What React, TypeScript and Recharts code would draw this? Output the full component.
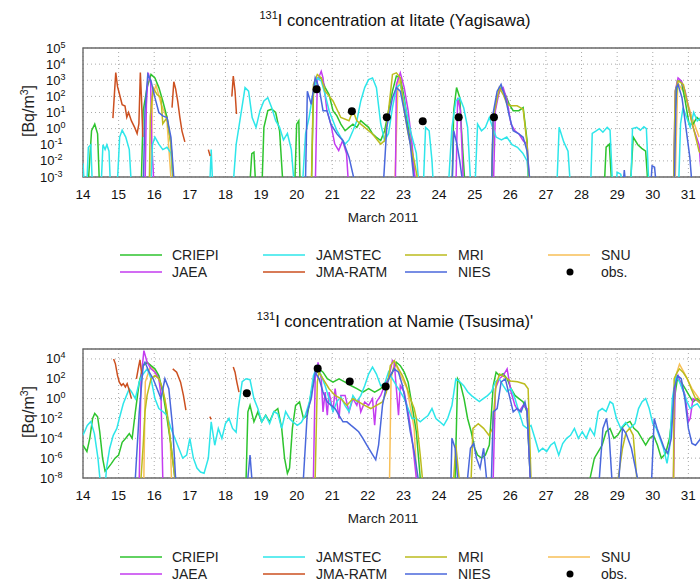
import React from 'react';
import { LineChart, Line, XAxis, YAxis, CartesianGrid, ReferenceArea } from 'recharts';

type Pt = [number, number | null];

// March 2011, day of month
const days = [14, 15, 16, 17, 18, 19, 20, 21, 22, 23, 24, 25, 26, 27, 28, 29, 30, 31];
const iitateTicks = [1e-3, 1e-2, 1e-1, 1, 10, 100, 1e3, 1e4, 1e5];
const namieTicks = [1e-8, 1e-6, 1e-4, 1e-2, 1, 100, 1e4];

// ---------- Iitate (Yagisawa) ----------
const iitateCriepi: Pt[] = [
  [14.0, 1e-4], [14.13, 1e-4], [14.24, 0.74], [14.33, 1.9], [14.41, 0.47], [14.47, 1e-4],
  [15.63, 1e-4], [15.69, 13], [15.8, 350], [15.91, 2300], [16.02, 1400], [16.13, 350], [16.24, 52], [16.36, 4.9], [16.47, 0.11], [16.56, 1e-4],
  [18.67, 1e-4], [18.74, 0.028], [18.8, 0.035], [18.86, 1e-4],
  [19.02, 1e-4], [19.08, 1.2], [19.19, 13], [19.3, 16], [19.41, 10], [19.52, 0.74], [19.63, 1e-4],
  [19.94, 1e-4], [20.0, 1.9], [20.06, 3.1], [20.1, 1e-4],
  [20.41, 1e-4], [20.47, 130], [20.58, 1400], [20.69, 1400], [20.8, 350], [20.91, 130], [21.02, 13], [21.13, 6.2], [21.24, 1.9], [21.36, 0.74],
  [21.47, 1.2], [21.58, 1.9], [21.69, 1.2], [21.8, 3.1], [21.91, 1.9], [22.02, 1.2], [22.13, 0.47], [22.24, 0.29], [22.36, 0.18], [22.47, 0.74],
  [22.58, 13], [22.69, 210], [22.8, 1800], [22.91, 1400], [23.02, 83], [23.13, 1.2], [23.24, 0.028], [23.36, 1e-4],
  [24.36, 1e-4], [24.41, 13], [24.49, 350], [24.58, 83], [24.63, 0.74], [24.74, 1e-4],
  [25.47, 1e-4], [25.52, 3.1], [25.63, 83], [25.74, 350], [25.86, 130], [25.97, 32], [26.08, 13], [26.24, 13], [26.36, 20], [26.47, 0.18], [26.52, 1e-4],
  [28.63, 1e-4], [28.69, 0.071], [28.78, 0.11], [28.86, 1e-4],
  [29.36, 1e-4], [29.45, 0.3], [29.58, 0.1], [29.69, 0.06], [29.8, 0.04], [29.88, 1e-4],
  [30.58, 1e-4], [30.63, 13], [30.69, 900], [30.8, 900], [30.91, 52], [31.02, 1.9], [31.13, 1.9], [31.24, 5], [31.35, 3], [31.45, 0.5], [31.6, 0.2],
];

const iitateJaea: Pt[] = [
  [14.0, 1e-4], [15.74, 1e-4], [15.78, 30], [15.83, 2900], [15.9, 800], [15.93, 0.1], [15.97, 0.003], [16.0, 1e-4],
  [20.52, 1e-4], [20.58, 900], [20.69, 3600], [20.74, 1400], [20.85, 13], [20.96, 1.9], [21.07, 0.11], [21.18, 0.044], [21.29, 0.18], [21.4, 0.028], [21.47, 1e-4],
  [22.77, 1e-4], [22.8, 550], [22.91, 2900], [23.02, 350], [23.13, 13], [23.24, 0.11], [23.36, 1e-4],
  [24.47, 1e-4], [24.52, 83], [24.6, 13], [24.69, 1e-4],
  [25.52, 1e-4], [25.58, 13], [25.69, 210], [25.8, 350], [25.91, 52], [26.02, 1.9], [26.13, 0.74], [26.24, 0.47], [26.36, 0.18], [26.47, 0.11], [26.56, 1e-4],
  [30.58, 1e-4], [30.63, 210], [30.71, 1400], [30.8, 900], [30.91, 210], [31.02, 13], [31.13, 1.2], [31.3, 0.1], [31.4, 1e-4],
];

const iitateJamstec: Pt[] = [
  [14.0, 0.007], [14.05, 1e-4], [14.1, 1e-4], [14.15, 0.07], [14.22, 0.1], [14.27, 1e-4],
  [14.5, 1e-4], [14.56, 0.1], [14.62, 0.05], [14.67, 0.1], [14.73, 0.04], [14.78, 1e-4],
  [14.95, 1e-4], [15.03, 0.3], [15.1, 0.8], [15.2, 0.3], [15.3, 0.05], [15.37, 1e-4],
  [15.9, 1e-4], [15.95, 0.1], [16.02, 0.3], [16.13, 0.11], [16.24, 0.05], [16.36, 0.07], [16.47, 0.03], [16.55, 1e-4],
  [17.55, 1e-4], [17.6, 0.05], [17.65, 1e-4],
  [18.2, 1e-4], [18.3, 0.1], [18.42, 5], [18.55, 350], [18.65, 210], [18.75, 4.9], [18.86, 1.2], [18.97, 13], [19.08, 52], [19.19, 83],
  [19.3, 20], [19.41, 3.1], [19.52, 1.2], [19.63, 0.2], [19.74, 0.5], [19.85, 0.05], [19.95, 1e-4],
  [20.15, 1e-4], [20.25, 0.5], [20.35, 5], [20.45, 130], [20.58, 1400], [20.69, 900], [20.8, 130], [20.91, 13], [21.02, 3.1], [21.13, 0.74],
  [21.24, 0.29], [21.36, 0.11], [21.47, 0.2], [21.58, 0.74], [21.69, 3.1], [21.8, 52], [21.91, 350], [22.02, 1100], [22.13, 1400], [22.24, 350],
  [22.36, 2], [22.47, 0.18], [22.58, 0.5], [22.69, 20], [22.8, 350], [22.91, 550], [23.02, 52], [23.13, 3.1], [23.24, 0.3], [23.36, 0.03], [23.45, 1e-4],
  [23.55, 1e-4], [23.62, 1.2], [23.72, 0.74], [23.8, 0.01], [23.85, 1e-4],
  [24.25, 1e-4], [24.36, 1.2], [24.47, 52], [24.58, 83], [24.69, 20], [24.8, 1.2], [24.9, 1e-4],
  [25.0, 1e-4], [25.08, 1.9], [25.19, 0.74], [25.3, 1.2], [25.41, 4.9], [25.5, 1.2], [25.6, 0.3], [25.75, 0.2], [25.9, 0.3], [26.05, 0.1],
  [26.2, 0.07], [26.35, 0.03], [26.47, 0.01], [26.55, 1e-4],
  [27.3, 1e-4], [27.37, 1.2], [27.5, 0.15], [27.62, 0.04], [27.7, 1e-4],
  [28.25, 1e-4], [28.3, 0.5], [28.4, 0.7], [28.5, 1.0], [28.6, 0.6], [28.72, 1.2], [28.8, 0.8], [28.88, 1e-4],
  [28.95, 1e-4], [29.0, 0.002], [29.1, 0.0015], [29.2, 1e-4],
  [29.38, 1e-4], [29.43, 1.0], [29.55, 1.2], [29.65, 0.8], [29.75, 1.3], [29.82, 1.0], [29.9, 1e-4],
  [30.72, 1e-4], [30.78, 2], [30.85, 20], [30.95, 5], [31.05, 1.2], [31.15, 10], [31.25, 3], [31.35, 5], [31.5, 2],
];

const iitateJma: Pt[] = [
  [14.84, 4.5], [14.92, 3000], [14.97, 400], [15.02, 150], [15.1, 30], [15.18, 25], [15.23, 5], [15.28, 10], [15.36, 3], [15.45, 1.2],
  [15.52, 0.5], [15.57, 2], [15.61, 3000], [15.64, 100], [15.68, 0.3], [15.7, null],
  [16.5, 20], [16.55, 800], [16.6, 300], [16.66, 50], [16.72, 5], [16.78, 0.7], [16.86, 0.15], [16.9, null],
  [17.52, 0.05], [17.57, 0.02], [17.6, null],
  [18.18, 100], [18.22, 1800], [18.27, 200], [18.31, 8],
];

const iitateMri: Pt[] = [
  [14.0, 1e-4], [15.86, 1e-4], [15.89, 6], [15.97, 350], [16.08, 130], [16.19, 83], [16.24, 2], [16.36, 4.9], [16.47, 0.11], [16.55, 1e-4],
  [20.41, 1e-4], [20.47, 550], [20.58, 2300], [20.69, 1400], [20.8, 210], [21.02, 52], [21.24, 4.9], [21.47, 3.1], [21.58, 13], [21.69, 3.1],
  [21.91, 1.2], [22.13, 0.47], [22.36, 0.11], [22.47, 0.18], [22.58, 13], [22.69, 2300], [22.8, 2900], [22.91, 1400], [23.02, 13], [23.13, 0.47],
  [23.3, 0.01], [23.47, 1e-4],
  [25.47, 1e-4], [25.52, 4.9], [25.69, 350], [25.8, 130], [25.91, 32], [26.02, 26], [26.19, 26], [26.36, 16], [26.47, 0.11], [26.54, 1e-4],
  [30.58, 1e-4], [30.63, 210], [30.71, 900], [30.86, 550], [31.02, 13], [31.18, 0.5], [31.3, 0.04], [31.5, 0.01],
];

const iitateNies: Pt[] = [
  [14.0, 1e-4], [15.69, 1e-4], [15.74, 13], [15.82, 2300], [15.91, 900], [16.02, 83], [16.13, 10], [16.24, 6.2], [16.36, 4.9], [16.47, 0.29], [16.58, 1e-4],
  [20.24, 1e-4], [20.3, 210], [20.41, 32], [20.52, 1400], [20.63, 350], [20.74, 13], [20.85, 13], [20.96, 1.9], [21.13, 0.47], [21.3, 0.18],
  [21.47, 0.017], [21.7, 1e-4],
  [22.42, 1e-4], [22.53, 1.2], [22.69, 83], [22.8, 350], [22.91, 210], [23.02, 13], [23.19, 0.11], [23.33, 1e-4],
  [24.36, 1e-4], [24.41, 0.74], [24.5, 0.11], [24.58, 0.01], [24.7, 1e-4],
  [25.47, 1e-4], [25.52, 10], [25.63, 210], [25.74, 550], [25.86, 83], [25.97, 6.2], [26.08, 0.74], [26.24, 0.47], [26.36, 0.29], [26.47, 0.04], [26.58, 1e-4],
  [29.15, 1e-4], [29.2, 0.0027], [29.26, 1e-4],
  [29.93, 1e-4], [29.98, 0.005], [30.05, 0.004], [30.12, 1e-4],
  [30.6, 1e-4], [30.66, 350], [30.71, 550], [30.82, 83], [30.93, 1.2], [31.04, 0.017], [31.12, 1e-4],
];

const iitateSnu: Pt[] = [
  [14.0, 1e-4], [15.9, 1e-4], [15.95, 100], [16.05, 500], [16.2, 30], [16.35, 5], [16.5, 1e-4],
  [22.75, 1e-4], [22.85, 1500], [23.0, 100], [23.2, 0.5], [23.35, 1e-4],
  [30.62, 1e-4], [30.7, 700], [30.9, 150], [31.1, 5], [31.3, 0.3],
];

const iitateObs: Pt[] = [[20.56, 275], [21.55, 12], [22.53, 5.1], [23.54, 2.9], [24.55, 5.1], [25.54, 5.1]];

// ---------- Namie (Tsusima) ----------
const namieCriepi: Pt[] = [
  [14.0, 2e-5], [14.11, 4.6e-6], [14.19, 1e-4], [14.27, 0.01], [14.33, 0.032], [14.41, 0.015], [14.47, 4.6e-4], [14.55, 1e-6], [14.62, 5e-8],
  [14.7, 1e-7], [14.8, 3e-7], [14.9, 1e-6], [15.0, 2e-6], [15.1, 4e-5], [15.2, 1e-4], [15.3, 3e-4], [15.38, 1e-4], [15.47, 0.046],
  [15.58, 46], [15.69, 2100], [15.8, 4600], [15.91, 2100], [16.02, 1000], [16.13, 210], [16.24, 4.6], [16.36, 0.01], [16.47, 2.1e-5], [16.58, 1e-8], [16.62, 1e-10],
  [18.56, 1e-10], [18.58, 1e-8], [18.63, 0.046], [18.69, 0.21], [18.8, 4.6e-3], [18.91, 0.046], [19.02, 4.6e-3], [19.13, 0.021], [19.24, 4.6e-3],
  [19.36, 0.046], [19.47, 0.1], [19.58, 1e-3], [19.66, 1e-6], [19.74, 3e-8], [19.8, 1e-7], [19.88, 1e-3], [19.97, 0.21], [20.08, 0.46], [20.19, 0.01],
  [20.3, 0.021], [20.41, 4.6], [20.52, 210], [20.63, 1000], [20.74, 460], [20.86, 100], [21.02, 46], [21.19, 100], [21.36, 46], [21.52, 21],
  [21.69, 10], [21.86, 4.6], [22.02, 10], [22.19, 4.6], [22.36, 10], [22.52, 46], [22.69, 460], [22.8, 4600], [22.91, 2100], [23.02, 460],
  [23.13, 46], [23.24, 0.21], [23.36, 4.6e-4], [23.47, 1e-8], [23.5, 1e-10],
  [24.4, 1e-10], [24.45, 1e-8], [24.52, 100], [24.6, 30], [24.7, 1], [24.8, 0.01], [24.9, 4.6e-4], [25.0, 1e-5], [25.08, 2.1e-6], [25.19, 1e-6],
  [25.3, 2.1e-6], [25.41, 2.1e-5], [25.52, 21], [25.6, 460], [25.69, 210], [25.8, 320], [25.91, 100], [26.02, 10], [26.13, 2.1], [26.24, 1],
  [26.36, 0.46], [26.47, 0.046], [26.56, 1e-8], [26.6, 1e-10],
  [28.2, 1e-10], [28.24, 1e-8], [28.36, 1e-6], [28.47, 4.6e-6], [28.58, 2.1e-5], [28.69, 4.6e-4], [28.8, 1e-3], [28.91, 1e-4], [29.02, 2.1e-4],
  [29.13, 1e-3], [29.24, 3e-3], [29.36, 5e-3], [29.47, 1e-3], [29.58, 4.6e-4], [29.69, 1e-4], [29.8, 2.1e-5], [29.91, 1e-4], [30.02, 2e-4],
  [30.13, 2.1e-5], [30.24, 1e-6], [30.36, 3e-6], [30.47, 1e-4], [30.58, 0.21], [30.69, 100], [30.8, 46], [30.91, 10], [31.02, 2.1],
  [31.13, 0.46], [31.24, 1], [31.4, 0.3], [31.6, 0.1],
];

const namieJaea: Pt[] = [
  [15.56, 1e-10], [15.58, 1e-8], [15.63, 100], [15.71, 6.8e4], [15.8, 4600], [15.91, 1000], [16.02, 460], [16.13, 100], [16.19, 2.1], [16.24, 1e-8], [16.26, 1e-10],
  [20.45, 1e-10], [20.47, 1e-8], [20.52, 100], [20.6, 4600], [20.69, 100], [20.74, 0.046], [20.8, 4.6], [20.86, 0.021], [20.91, 4.6], [21.02, 0.046],
  [21.08, 10], [21.19, 0.01], [21.24, 2.1], [21.36, 2.1], [21.47, 0.046], [21.58, 1], [21.69, 0.21], [21.74, 1], [21.8, 0.046], [21.91, 0.46],
  [22.02, 0.21], [22.13, 1], [22.19, 2.1e-3], [22.24, 0.46], [22.36, 2.1], [22.47, 21], [22.58, 100], [22.69, 6800], [22.74, 4600], [22.8, 10],
  [22.86, 0.021], [22.91, 21], [23.02, 4.6], [23.13, 0.046], [23.24, 1e-4], [23.36, 1e-8], [23.4, 1e-10],
  [25.48, 1e-10], [25.52, 1e-8], [25.58, 10], [25.69, 100], [25.8, 210], [25.91, 1000], [26.02, 4.6], [26.13, 0.21], [26.24, 0.046], [26.36, 0.21],
  [26.47, 0.1], [26.56, 1e-8], [26.6, 1e-10],
  [30.55, 1e-10], [30.58, 1e-8], [30.63, 46], [30.71, 210], [30.8, 21], [30.91, 2.1], [31.0, 4.6e-3], [31.05, 0.01], [31.13, 1], [31.3, 0.5], [31.5, 0.2],
];

const namieJamstec: Pt[] = [
  [14.0, 2e-4], [14.12, 2e-3], [14.22, 5e-3], [14.32, 3e-4], [14.42, 1e-6], [14.5, 1e-9], [14.62, 1e-9], [14.66, 1e-7], [14.75, 1e-5], [14.85, 2e-4],
  [14.95, 1e-3], [15.02, 1e-2], [15.13, 0.3], [15.24, 3], [15.3, 10], [15.36, 5], [15.47, 1], [15.58, 50], [15.69, 300], [15.8, 1000], [15.91, 100],
  [16.02, 1], [16.13, 0.1], [16.24, 0.05], [16.36, 0.02], [16.47, 1e-3], [16.58, 1e-4], [16.69, 1e-5], [16.8, 1e-6], [16.91, 2e-6], [17.0, 1e-4],
  [17.1, 1e-6], [17.2, 1e-7], [17.3, 4e-8], [17.4, 3e-8], [17.52, 1e-6], [17.6, 4.6e-3], [17.7, 2e-5], [17.8, 1e-3], [17.9, 1e-4], [18.0, 3e-3],
  [18.1, 0.01], [18.2, 1e-3], [18.3, 4e-4], [18.36, 0.1], [18.47, 50], [18.58, 100], [18.69, 80], [18.8, 1], [18.91, 0.1], [19.02, 4.6e-3],
  [19.13, 0.02], [19.24, 3e-3], [19.36, 0.05], [19.47, 0.03], [19.58, 1e-3], [19.69, 0.05], [19.8, 0.01], [19.91, 4e-3], [20.02, 2e-3],
  [20.13, 4e-3], [20.24, 0.02], [20.36, 0.5], [20.47, 200], [20.58, 2000], [20.69, 200], [20.8, 20], [20.91, 1], [21.02, 0.05], [21.13, 0.5],
  [21.24, 1.5], [21.36, 0.2], [21.47, 0.05], [21.58, 2], [21.69, 0.5], [21.8, 2], [21.91, 20], [22.02, 300], [22.13, 1500], [22.24, 300],
  [22.36, 20], [22.47, 30], [22.58, 500], [22.69, 100], [22.8, 20], [22.91, 5], [23.02, 1], [23.13, 0.1], [23.24, 0.01], [23.36, 0.01],
  [23.47, 4.6e-3], [23.58, 0.01], [23.69, 0.02], [23.8, 0.1], [23.91, 0.01], [24.02, 4.6e-3], [24.13, 2e-3], [24.24, 0.01], [24.36, 0.2],
  [24.47, 100], [24.58, 50], [24.69, 20], [24.8, 5], [24.91, 2], [25.02, 1], [25.13, 0.5], [25.24, 1], [25.36, 2], [25.47, 5], [25.58, 50],
  [25.69, 100], [25.8, 20], [25.91, 5], [26.02, 10], [26.13, 1], [26.24, 0.05], [26.36, 2e-3], [26.47, 1e-3], [26.58, 2e-3], [26.69, 1e-4],
  [26.8, 4.6e-6], [26.91, 1e-5], [27.02, 4.6e-6], [27.13, 2e-5], [27.24, 4e-5], [27.36, 2e-6], [27.47, 3e-5], [27.58, 1e-4], [27.69, 2e-4],
  [27.8, 1e-3], [27.91, 1e-4], [28.02, 4.6e-4], [28.13, 1e-4], [28.24, 1e-3], [28.36, 2e-4], [28.47, 0.05], [28.58, 0.1], [28.69, 0.05],
  [28.8, 0.5], [28.88, 0.3], [28.98, 0.01], [29.1, 1e-3], [29.24, 4e-3], [29.36, 1e-3], [29.5, 3e-3], [29.6, 0.1], [29.7, 0.5], [29.8, 1],
  [29.9, 0.1], [30.0, 3e-3], [30.1, 1e-3], [30.2, 1e-4], [30.3, 1e-5], [30.4, 3e-7], [30.47, 1e-5], [30.55, 1], [30.65, 200], [30.75, 50],
  [30.86, 5], [30.96, 0.5], [31.05, 0.1], [31.15, 0.2], [31.25, 0.3], [31.4, 0.05], [31.55, 0.1],
];

const namieJma: Pt[] = [
  [14.86, 1e4], [14.91, 3200], [14.97, 210], [15.02, 46], [15.08, 21], [15.13, 32], [15.19, 15], [15.24, 32], [15.3, 6.8], [15.36, 1], [15.4, null],
  [15.5, 100], [15.55, 1000], [15.6, 8000], [15.65, 300], [15.67, null],
  [16.52, 1000], [16.63, 460], [16.74, 46], [16.82, 2.1], [16.89, 0.068], [16.92, null],
  [17.56, 0.015], [17.6, 0.008], [17.62, null],
  [18.22, 1500], [18.27, 460], [18.32, 46], [18.38, 4.6],
];

const namieMri: Pt[] = [
  [15.6, 1e-10], [15.63, 1e-8], [15.69, 2.1e-5], [15.74, 0.046], [15.8, 2.1], [15.91, 100], [16.02, 210], [16.13, 100], [16.24, 10], [16.36, 0.046],
  [16.47, 2.1e-5], [16.58, 1e-8], [16.6, 1e-10],
  [20.49, 1e-10], [20.52, 1e-8], [20.58, 46], [20.63, 460], [20.74, 100], [20.91, 10], [21.08, 2.1], [21.24, 1], [21.41, 0.21], [21.58, 1],
  [21.74, 0.46], [21.91, 0.21], [22.08, 0.1], [22.24, 0.21], [22.41, 0.46], [22.52, 4.6], [22.63, 2100], [22.74, 6800], [22.86, 1000],
  [22.97, 210], [23.08, 21], [23.19, 1], [23.3, 0.1], [23.36, 0.01], [23.47, 2.1e-6], [23.53, 1e-8], [23.56, 1e-10],
  [24.38, 1e-10], [24.41, 1e-8], [24.47, 2.1e-5], [24.56, 1e-8], [24.6, 1e-10],
  [24.86, 1e-10], [24.9, 1e-8], [24.95, 1e-3], [25.1, 3e-3], [25.25, 1e-3], [25.4, 2e-4], [25.5, 1e-3], [25.6, 30], [25.7, 300], [25.85, 150],
  [26.0, 60], [26.2, 50], [26.4, 30], [26.5, 10], [26.58, 1e-8], [26.6, 1e-10],
  [29.0, 1e-10], [29.03, 1e-8], [29.15, 1e-5], [29.25, 4e-4], [29.35, 1e-3], [29.45, 2e-4], [29.55, 1e-8], [29.6, 1e-10],
  [30.55, 1e-10], [30.58, 1e-8], [30.6, 100], [30.69, 460], [30.75, 1000], [30.86, 400], [30.97, 100], [31.08, 10], [31.2, 1], [31.35, 0.3], [31.5, 0.1],
];

const namieNies: Pt[] = [
  [15.44, 1e-10], [15.47, 1e-8], [15.58, 0.046], [15.69, 2100], [15.74, 4600], [15.86, 460], [15.97, 100], [16.08, 10], [16.19, 1], [16.3, 100],
  [16.41, 10], [16.52, 1e-3], [16.6, 1e-8], [16.62, 1e-10],
  [18.6, 1e-10], [18.63, 1e-8], [18.69, 2.1e-6], [18.74, 1e-8], [18.76, 1e-10],
  [20.16, 1e-10], [20.19, 1e-8], [20.3, 0.046], [20.41, 1], [20.52, 460], [20.63, 100], [20.74, 4.6], [20.86, 0.46], [20.97, 0.21], [21.08, 0.1],
  [21.19, 0.021], [21.3, 4.6e-3], [21.41, 4.6e-3], [21.52, 2.1e-3], [21.63, 1e-3], [21.74, 4.6e-4], [21.86, 1e-4], [21.97, 2.1e-5],
  [22.08, 4.6e-6], [22.22, 6.8e-7], [22.3, 2.1e-5], [22.41, 0.21], [22.52, 21], [22.63, 210], [22.74, 1000], [22.86, 460], [22.97, 21],
  [23.08, 0.21], [23.19, 4.6e-4], [23.3, 4.6e-6], [23.41, 1e-8], [23.45, 1e-10],
  [24.32, 1e-10], [24.36, 1e-4], [24.45, 1e-5], [24.52, 1e-8], [24.6, 1e-10], [24.75, 1e-10], [24.8, 1e-8], [24.88, 1e-5], [24.97, 3e-5],
  [25.05, 1e-6], [25.15, 1e-7], [25.25, 1e-5], [25.33, 1e-8], [25.4, 1e-10],
  [25.45, 1e-10], [25.47, 1e-8], [25.52, 0.046], [25.63, 0.1], [25.74, 46], [25.86, 100], [25.97, 2.1], [26.08, 0.046], [26.19, 0.1],
  [26.3, 0.046], [26.41, 0.46], [26.47, 0.046], [26.56, 1e-8], [26.6, 1e-10],
  [28.4, 1e-10], [28.5, 1e-8], [28.6, 1e-3], [28.7, 0.01], [28.78, 1e-4], [28.85, 1e-8], [28.9, 1e-10],
  [29.0, 1e-10], [29.05, 1e-8], [29.15, 1e-3], [29.25, 3e-4], [29.4, 1e-5], [29.57, 1e-8], [29.6, 1e-10],
  [29.9, 1e-10], [29.97, 1e-8], [30.04, 0.01], [30.12, 1e-3], [30.22, 1e-4], [30.32, 1e-5], [30.42, 3e-6], [30.52, 1e-4], [30.6, 10],
  [30.7, 200], [30.8, 100], [30.9, 1], [31.0, 1e-3], [31.1, 3e-5], [31.2, 2e-5], [31.35, 1e-4], [31.5, 1e-3],
];

const namieSnu: Pt[] = [
  [15.7, 1e-10], [15.75, 50], [15.9, 2000], [16.1, 200], [16.3, 1], [16.45, 1e-4], [16.5, 1e-10],
  [22.6, 1e-10], [22.65, 100], [22.75, 5000], [22.9, 300], [23.1, 10], [23.3, 1e-3], [23.4, 1e-10],
  [30.58, 1e-10], [30.62, 100], [30.75, 3000], [30.9, 300], [31.1, 10], [31.3, 1], [31.5, 0.3],
];

const namieObs: Pt[] = [[18.6, 3.4], [20.59, 1070], [21.49, 54], [22.5, 17]];

const COLORS: Record<string, string> = {
  CRIEPI: '#2ec42e',
  JAEA: '#c43cf0',
  JAMSTEC: '#2ee6ea',
  'JMA-RATM': '#cc5020',
  MRI: '#bcbc1e',
  NIES: '#4a68dc',
  SNU: '#f8c058',
};

const rows = (pts: Pt[]) => pts.map(([t, v]) => ({ t, v }));

const FONT = '"Liberation Sans", Arial, sans-serif';

const PowTick = (props: any) => {
  const { x, y, payload } = props;
  const e = Math.round(Math.log10(payload.value));
  const x0 = e >= 0 ? x - 37 : x - 43;
  return (
    <text x={x0} y={y + 4.5} fontSize={13} fill="#111" fontFamily={FONT}>
      10
      <tspan dy={-5} fontSize={9}>{e}</tspan>
    </text>
  );
};

interface PanelProps {
  top: number;
  title: string;
  yDomain: [number, number];
  yTicks: number[];
  series: Array<{ name: string; pts: Pt[] }>;
  obs: Pt[];
}

const Panel = ({ top, title, yDomain, yTicks, series, obs }: PanelProps) => (
  <div style={{ position: 'absolute', left: 0, top, width: 760, height: 300 }}>
    <div style={{ position: 'absolute', left: 395, top: 9, transform: 'translateX(-50%)', whiteSpace: 'nowrap', fontSize: 16.5, color: '#111' }}>
      <sup style={{ fontSize: 11 }}>131</sup>I concentration at {title}
    </div>
    <div style={{ position: 'absolute', left: 28, top: 111, transform: 'translate(-50%, -50%) rotate(-90deg)', whiteSpace: 'nowrap', fontSize: 16, color: '#222' }}>
      [Bq/m<sup style={{ fontSize: 10.5 }}>3</sup>]
    </div>
    <div style={{ position: 'absolute', left: 383, top: 210, transform: 'translateX(-50%)', whiteSpace: 'nowrap', fontSize: 13.5, color: '#222' }}>
      March 2011
    </div>
    <LineChart width={740} height={210} margin={{ top: 48, right: 16, bottom: 3, left: 33 }}>
      <CartesianGrid stroke="#aaa" strokeDasharray="1 3" />
      <XAxis
        dataKey="t"
        type="number"
        domain={[14, 32]}
        ticks={days}
        interval={0}
        allowDataOverflow
        axisLine={false}
        tickLine={false}
        tickSize={6}
        tickMargin={6}
        height={30}
        tick={{ fontSize: 13.5, fill: '#111' }}
      />
      <YAxis
        type="number"
        scale="log"
        domain={yDomain}
        ticks={yTicks}
        interval={0}
        allowDataOverflow
        axisLine={false}
        tickLine={false}
        tickSize={0}
        tickMargin={0}
        width={50}
        tick={<PowTick />}
      />
      <ReferenceArea x1={14} x2={32} y1={yDomain[0]} y2={yDomain[1]} fill="none" stroke="#6a6a6a" strokeWidth={1.4} ifOverflow="visible" />
      {series.map((s) => (
        <Line
          key={s.name}
          data={rows(s.pts)}
          dataKey="v"
          type="linear"
          stroke={COLORS[s.name]}
          strokeWidth={1.5}
          dot={false}
          activeDot={false}
          isAnimationActive={false}
        />
      ))}
      <Line data={rows(obs)} dataKey="v" stroke="none" dot={{ r: 4, fill: '#000', stroke: 'none' }} isAnimationActive={false} />
    </LineChart>
  </div>
);

const legendCols = [
  { x: 120, text: 172 },
  { x: 263, text: 316 },
  { x: 405, text: 458 },
  { x: 548, text: 601 },
];
const legendRows = [
  ['CRIEPI', 'JAMSTEC', 'MRI', 'SNU'],
  ['JAEA', 'JMA-RATM', 'NIES', 'obs.'],
];

const KeyBlock = ({ top }: { top: number }) => (
  <svg style={{ position: 'absolute', left: 0, top }} width={700} height={36}>
    {legendRows.map((row, r) =>
      row.map((name, c) => {
        const col = legendCols[c];
        const y = 8 + r * 17;
        return (
          <g key={name}>
            {name === 'obs.' ? (
              <circle cx={570} cy={y} r={3.5} fill="#000" />
            ) : (
              <line x1={col.x} x2={col.x + 42} y1={y} y2={y} stroke={COLORS[name]} strokeWidth={2} opacity={0.75} />
            )}
            <text x={col.text} y={y + 5} fontSize={14} fill="#222" fontFamily={FONT}>
              {name}
            </text>
          </g>
        );
      })
    )}
  </svg>
);

const iitateSeries = [
  { name: 'SNU', pts: iitateSnu },
  { name: 'CRIEPI', pts: iitateCriepi },
  { name: 'JAEA', pts: iitateJaea },
  { name: 'JAMSTEC', pts: iitateJamstec },
  { name: 'JMA-RATM', pts: iitateJma },
  { name: 'MRI', pts: iitateMri },
  { name: 'NIES', pts: iitateNies },
];

const namieSeries = [
  { name: 'SNU', pts: namieSnu },
  { name: 'CRIEPI', pts: namieCriepi },
  { name: 'JAEA', pts: namieJaea },
  { name: 'JAMSTEC', pts: namieJamstec },
  { name: 'JMA-RATM', pts: namieJma },
  { name: 'MRI', pts: namieMri },
  { name: 'NIES', pts: namieNies },
];

export default function App() {
  return (
    <div style={{ position: 'absolute', left: 0, top: 0, width: 700, height: 586, overflow: 'hidden', background: '#fff', fontFamily: FONT }}>
      <Panel top={0} title="Iitate (Yagisawa)" yDomain={[1e-3, 1e5]} yTicks={iitateTicks} series={iitateSeries} obs={iitateObs} />
      <KeyBlock top={247} />
      <Panel top={301} title="Namie (Tsusima)'" yDomain={[1e-8, 1e5]} yTicks={namieTicks} series={namieSeries} obs={namieObs} />
      <KeyBlock top={549} />
    </div>
  );
}
